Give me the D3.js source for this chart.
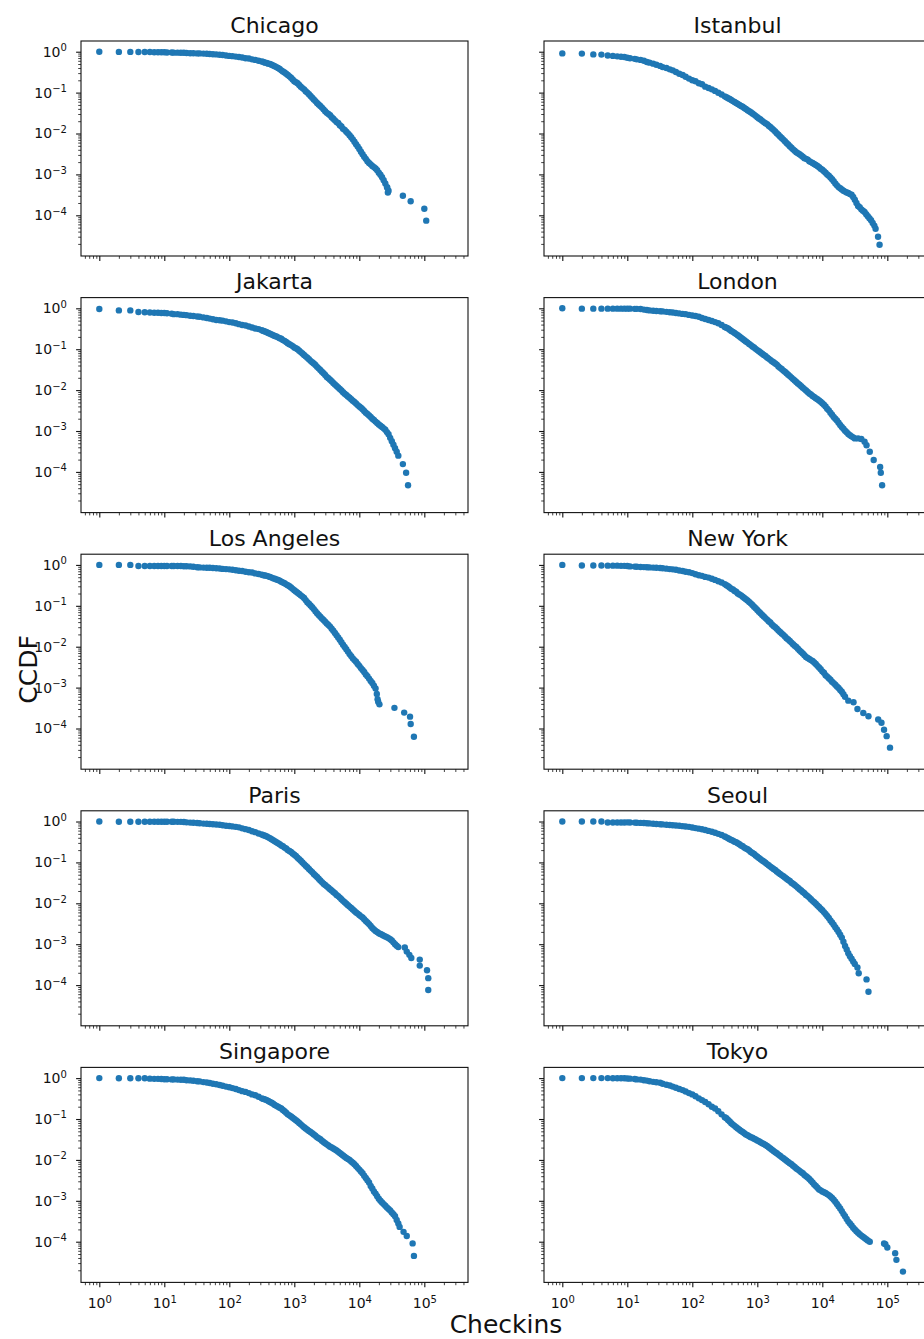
<!DOCTYPE html>
<html>
<head>
<meta charset="utf-8">
<script src="https://cdn.jsdelivr.net/npm/d3@7"></script>
<style>
  body { margin: 0; background: #fff; }
  text { font-family: "DejaVu Sans", sans-serif; fill: #111; }
</style>
</head>
<body>
<div id="chart-area"></div>
<script>
let checkins = [1, 2, 3, 4, 5, 6, 7, 8, 9,
  10, 11, 13, 14, 16, 18, 20, 22, 25, 28, 32, 35, 40, 45, 50, 56, 63, 71, 79, 89,
  100, 112, 126, 141, 158, 178, 200, 224, 251, 282, 316, 355, 398, 447, 501, 562, 631, 708, 794, 891,
  1000, 1122, 1259, 1413, 1585, 1778, 1995, 2239, 2512, 2818, 3162, 3548, 3981, 4467, 5012, 5623, 6310, 7079, 7943, 8913,
  10000, 11220, 12589, 14125, 15849, 17783, 19953, 22387, 25119, 28184, 31623, 35481, 39811, 44668, 50119, 56234, 63096];

// extra reading positions in the steep part of the curves
let checkinsMid = [335, 376, 422, 473, 531, 596, 668, 750, 841, 944,
  1059, 1189, 1334, 1496, 1679, 1884, 2113, 2371, 2661, 2985,
  3350, 3758, 4217, 4732, 5309, 5957, 6683, 7499, 8414, 9441,
  10593, 11885, 13335, 14962, 16788, 18836, 21135, 23714, 26607, 29854,
  33497, 37584, 42170, 47315, 53088, 59566];

// CCDF values, one per checkin count above (each city stops where its dense band ends)
let chicagoCcdf = [1, 0.99, 0.99, 0.98, 0.98, 0.98, 0.97, 0.97, 0.97,
  0.97, 0.96, 0.96, 0.95, 0.95, 0.94, 0.94, 0.93, 0.92, 0.92,
  0.91, 0.91, 0.90, 0.89, 0.88, 0.87, 0.86, 0.84, 0.83, 0.81,
  0.79, 0.78, 0.76, 0.74, 0.72, 0.69, 0.68, 0.65, 0.63, 0.60,
  0.58, 0.54, 0.51, 0.48, 0.44, 0.40, 0.35, 0.31, 0.27, 0.23,
  0.19, 0.17, 0.14, 0.12, 0.10, 0.083, 0.068, 0.056, 0.047, 0.039,
  0.032, 0.028, 0.023, 0.019, 0.016, 0.013, 0.011, 0.0091, 0.0072, 0.0055,
  0.0042, 0.0031, 0.0024, 0.0019, 0.0016, 0.0014, 0.0011, 0.00085, 0.0006, 0.0004];
let istanbulCcdf = [0.91, 0.90, 0.86, 0.85, 0.81, 0.79, 0.77, 0.75, 0.74,
  0.71, 0.69, 0.67, 0.65, 0.63, 0.60, 0.56, 0.54, 0.51, 0.48,
  0.45, 0.42, 0.40, 0.37, 0.35, 0.32, 0.29, 0.27, 0.245, 0.22,
  0.20, 0.19, 0.17, 0.16, 0.14, 0.13, 0.12, 0.11, 0.099, 0.090,
  0.081, 0.073, 0.066, 0.059, 0.053, 0.047, 0.042, 0.037, 0.033, 0.029,
  0.025, 0.022, 0.019, 0.017, 0.0145, 0.0123, 0.0102, 0.0085, 0.0071, 0.0059,
  0.0049, 0.0041, 0.0035, 0.0031, 0.0027, 0.0024, 0.0021, 0.0019, 0.0017, 0.0015,
  0.0013, 0.0011, 0.00093, 0.00076, 0.0006, 0.00049, 0.00043, 0.00038, 0.00035, 0.00032,
  0.00024, 0.00017, 0.00014, 0.00012, 0.000095, 0.000076, 0.000056];
let jakartaCcdf = [0.96, 0.89, 0.89, 0.81, 0.80, 0.79, 0.78, 0.78, 0.77,
  0.77, 0.76, 0.74, 0.72, 0.72, 0.70, 0.69, 0.68, 0.66, 0.65,
  0.63, 0.62, 0.60, 0.58, 0.56, 0.54, 0.52, 0.51, 0.50, 0.48,
  0.46, 0.45, 0.43, 0.41, 0.39, 0.38, 0.36, 0.34, 0.32, 0.31,
  0.29, 0.27, 0.25, 0.23, 0.21, 0.195, 0.18, 0.16, 0.14, 0.126,
  0.11, 0.10, 0.085, 0.072, 0.062, 0.052, 0.045, 0.037, 0.031, 0.026,
  0.021, 0.018, 0.015, 0.0126, 0.0107, 0.0089, 0.0076, 0.0065, 0.0055, 0.0047,
  0.0040, 0.0034, 0.0028, 0.0024, 0.0020, 0.0017, 0.00145, 0.00126, 0.00107, 0.00083,
  0.00056, 0.00038, 0.00025];
let londonCcdf = [1, 0.98, 0.98, 0.98, 0.98, 0.98, 0.98, 0.98, 0.98,
  0.98, 0.98, 0.97, 0.97, 0.96, 0.93, 0.91, 0.89, 0.87, 0.86,
  0.85, 0.84, 0.82, 0.80, 0.79, 0.77, 0.75, 0.73, 0.72, 0.69,
  0.67, 0.65, 0.62, 0.58, 0.55, 0.52, 0.49, 0.46, 0.43, 0.39,
  0.35, 0.32, 0.28, 0.25, 0.22, 0.19, 0.166, 0.145, 0.126, 0.11,
  0.095, 0.083, 0.072, 0.063, 0.055, 0.048, 0.042, 0.035, 0.030, 0.026,
  0.022, 0.0186, 0.0158, 0.0135, 0.0115, 0.0098, 0.0083, 0.0072, 0.0063, 0.0056,
  0.0048, 0.0040, 0.0032, 0.0025, 0.0020, 0.0016, 0.00126, 0.00102, 0.00085, 0.00074,
  0.00066];
let losAngelesCcdf = [1, 1, 1, 0.94, 0.94, 0.94, 0.94, 0.94, 0.94,
  0.94, 0.94, 0.94, 0.94, 0.94, 0.94, 0.93, 0.93, 0.92, 0.90,
  0.88, 0.87, 0.86, 0.855, 0.85, 0.84, 0.83, 0.82, 0.80, 0.79,
  0.78, 0.76, 0.74, 0.72, 0.71, 0.68, 0.66, 0.65, 0.62, 0.60,
  0.575, 0.55, 0.525, 0.49, 0.46, 0.43, 0.39, 0.355, 0.32, 0.28,
  0.24, 0.21, 0.18, 0.155, 0.123, 0.102, 0.083, 0.066, 0.054, 0.045,
  0.037, 0.031, 0.0245, 0.019, 0.0148, 0.0112, 0.0087, 0.0066, 0.0052, 0.0043,
  0.0034, 0.0027, 0.0021, 0.00166, 0.0013, 0.00095];
let newYorkCcdf = [1, 0.97, 0.97, 0.97, 0.96, 0.96, 0.96, 0.95, 0.95,
  0.94, 0.92, 0.91, 0.90, 0.89, 0.885, 0.875, 0.87, 0.86, 0.85,
  0.84, 0.83, 0.81, 0.79, 0.78, 0.76, 0.73, 0.71, 0.68, 0.66,
  0.63, 0.59, 0.56, 0.54, 0.51, 0.49, 0.46, 0.43, 0.40, 0.37,
  0.34, 0.30, 0.26, 0.23, 0.20, 0.18, 0.155, 0.135, 0.115, 0.095,
  0.079, 0.066, 0.055, 0.046, 0.039, 0.032, 0.0275, 0.023, 0.0195, 0.0162,
  0.0138, 0.0115, 0.0098, 0.0081, 0.0068, 0.0056, 0.0050, 0.0045, 0.0038, 0.0031,
  0.0025, 0.0020, 0.0017, 0.0014, 0.00117, 0.00098, 0.00079, 0.0006];
let parisCcdf = [1, 0.99, 0.99, 0.99, 0.99, 0.99, 0.99, 0.99, 0.99,
  0.99, 0.99, 0.99, 0.99, 0.98, 0.98, 0.97, 0.955, 0.94, 0.93,
  0.92, 0.91, 0.89, 0.88, 0.87, 0.86, 0.845, 0.83, 0.81, 0.79,
  0.78, 0.76, 0.74, 0.72, 0.68, 0.65, 0.62, 0.58, 0.55, 0.51,
  0.48, 0.45, 0.41, 0.37, 0.33, 0.295, 0.26, 0.23, 0.20, 0.18,
  0.155, 0.13, 0.11, 0.091, 0.076, 0.063, 0.052, 0.044, 0.036, 0.030,
  0.026, 0.022, 0.019, 0.016, 0.0138, 0.0115, 0.0098, 0.0083, 0.0071, 0.006,
  0.0052, 0.0045, 0.0037, 0.0031, 0.0025, 0.0021, 0.00186, 0.0017, 0.00155, 0.00141,
  0.00123, 0.001, 0.00085];
let seoulCcdf = [1, 1, 1, 1, 0.95, 0.95, 0.95, 0.95, 0.95,
  0.955, 0.95, 0.94, 0.93, 0.925, 0.92, 0.91, 0.90, 0.88, 0.87,
  0.86, 0.85, 0.835, 0.82, 0.81, 0.80, 0.785, 0.77, 0.755, 0.74,
  0.715, 0.69, 0.67, 0.645, 0.62, 0.59, 0.56, 0.53, 0.50, 0.47,
  0.43, 0.39, 0.355, 0.32, 0.295, 0.26, 0.23, 0.21, 0.18, 0.16,
  0.138, 0.12, 0.105, 0.091, 0.079, 0.069, 0.06, 0.052, 0.046, 0.04,
  0.035, 0.030, 0.026, 0.022, 0.019, 0.016, 0.0138, 0.0115, 0.0098, 0.0081,
  0.0068, 0.0055, 0.0044, 0.0034, 0.0026, 0.002, 0.00145, 0.00091, 0.0006, 0.00044,
  0.00033];
let singaporeCcdf = [1, 0.99, 0.99, 0.99, 0.99, 0.97, 0.96, 0.96, 0.95,
  0.94, 0.94, 0.93, 0.93, 0.92, 0.915, 0.91, 0.89, 0.88, 0.86,
  0.84, 0.83, 0.80, 0.78, 0.76, 0.73, 0.71, 0.68, 0.65, 0.62,
  0.60, 0.57, 0.54, 0.51, 0.48, 0.46, 0.43, 0.40, 0.38, 0.35,
  0.32, 0.30, 0.275, 0.25, 0.22, 0.20, 0.18, 0.155, 0.13, 0.115,
  0.10, 0.087, 0.074, 0.063, 0.055, 0.048, 0.042, 0.036, 0.032, 0.0275,
  0.024, 0.021, 0.019, 0.017, 0.0148, 0.0129, 0.0112, 0.01, 0.0085, 0.0071,
  0.0058, 0.0047, 0.0036, 0.0028, 0.002, 0.0015, 0.00112, 0.00091, 0.00076, 0.00063,
  0.00052, 0.00042, 0.00028];
let tokyoCcdf = [1, 1, 1, 1, 1, 0.99, 0.99, 0.99, 0.99,
  0.98, 0.97, 0.955, 0.93, 0.92, 0.89, 0.87, 0.84, 0.81, 0.79,
  0.77, 0.73, 0.69, 0.66, 0.62, 0.58, 0.54, 0.51, 0.47, 0.43,
  0.40, 0.36, 0.32, 0.29, 0.26, 0.23, 0.20, 0.18, 0.155, 0.13,
  0.11, 0.095, 0.079, 0.068, 0.059, 0.051, 0.045, 0.040, 0.036, 0.033,
  0.030, 0.027, 0.0245, 0.022, 0.019, 0.0166, 0.0145, 0.0126, 0.011, 0.0095,
  0.0083, 0.0072, 0.0062, 0.0054, 0.0047, 0.0040, 0.0034, 0.0028, 0.0023, 0.0019,
  0.0017, 0.00155, 0.00138, 0.00117, 0.00095, 0.00074, 0.00056, 0.00042, 0.00031, 0.00025,
  0.0002, 0.000166, 0.000141, 0.000123, 0.000107];

// CCDF read at checkinsMid
let chicagoCcdfMid = [0.56, 0.53, 0.50, 0.46, 0.42, 0.38, 0.33, 0.29, 0.25, 0.21,
  0.18, 0.153, 0.129, 0.108, 0.091, 0.075, 0.062, 0.051, 0.043, 0.035,
  0.030, 0.025, 0.021, 0.018, 0.0148, 0.0123, 0.0101, 0.0081, 0.0063, 0.0048,
  0.0036, 0.0027, 0.0021, 0.00176, 0.00151, 0.00126, 0.00098, 0.00072, 0.00049];
let istanbulCcdfMid = [0.077, 0.070, 0.062, 0.056, 0.050, 0.045, 0.040, 0.035, 0.031, 0.027,
  0.0234, 0.0204, 0.0178, 0.0155, 0.0133, 0.0112, 0.0093, 0.0078, 0.0065, 0.0054,
  0.0045, 0.0038, 0.0033, 0.0029, 0.0025, 0.0023, 0.002, 0.0018, 0.0016, 0.00138,
  0.0012, 0.001, 0.00084, 0.00068, 0.00054, 0.00046, 0.0004, 0.00036, 0.00033, 0.00028,
  0.0002, 0.000157, 0.000129, 0.000106, 0.000085, 0.000065];
let jakartaCcdfMid = [0.28, 0.26, 0.24, 0.22, 0.204, 0.185, 0.167, 0.15, 0.133, 0.119,
  0.106, 0.092, 0.079, 0.067, 0.057, 0.048, 0.041, 0.034, 0.028, 0.0234,
  0.0195, 0.0164, 0.0138, 0.0116, 0.0098, 0.0082, 0.007, 0.006, 0.0051, 0.0043,
  0.0037, 0.0031, 0.0026, 0.0022, 0.00186, 0.00157, 0.00135, 0.00116, 0.00094, 0.00068,
  0.00046, 0.00031];
let londonCcdfMid = [0.335, 0.30, 0.266, 0.234, 0.204, 0.178, 0.155, 0.135, 0.117, 0.102,
  0.089, 0.078, 0.068, 0.059, 0.051, 0.045, 0.038, 0.033, 0.028, 0.0237,
  0.0202, 0.0172, 0.0146, 0.0124, 0.0106, 0.009, 0.0078, 0.0068, 0.006, 0.0052,
  0.0044, 0.0035, 0.0028, 0.0022, 0.0018, 0.0014, 0.00114, 0.00093, 0.00079, 0.0007];
let losAngelesCcdfMid = [0.56, 0.54, 0.51, 0.47, 0.44, 0.41, 0.37, 0.335, 0.30, 0.26,
  0.224, 0.195, 0.168, 0.138, 0.112, 0.092, 0.074, 0.06, 0.049, 0.041,
  0.034, 0.0275, 0.0216, 0.0168, 0.0129, 0.0099, 0.0076, 0.0059, 0.0047, 0.0038,
  0.003, 0.0024, 0.0019, 0.00146, 0.00111];
let newYorkCcdfMid = [0.32, 0.28, 0.25, 0.22, 0.19, 0.166, 0.145, 0.124, 0.105, 0.087,
  0.072, 0.06, 0.05, 0.042, 0.035, 0.03, 0.025, 0.021, 0.0178, 0.015,
  0.0126, 0.0106, 0.0089, 0.0074, 0.0062, 0.0053, 0.0047, 0.0041, 0.0034, 0.0028,
  0.0023, 0.00186, 0.00155, 0.00129, 0.00107, 0.00088, 0.00069];
let parisCcdfMid = [0.46, 0.43, 0.39, 0.35, 0.31, 0.28, 0.25, 0.22, 0.19, 0.166,
  0.143, 0.12, 0.10, 0.083, 0.069, 0.058, 0.048, 0.04, 0.033, 0.028,
  0.024, 0.0207, 0.0176, 0.015, 0.0126, 0.0106, 0.009, 0.0077, 0.0065, 0.0056,
  0.0048, 0.0041, 0.0034, 0.0028, 0.0023, 0.002, 0.00178, 0.00162, 0.00148, 0.00132,
  0.00111, 0.00092];
let seoulCcdfMid = [0.41, 0.37, 0.34, 0.31, 0.28, 0.25, 0.22, 0.195, 0.17, 0.148,
  0.129, 0.112, 0.098, 0.085, 0.074, 0.065, 0.056, 0.049, 0.043, 0.037,
  0.032, 0.028, 0.024, 0.0207, 0.0176, 0.015, 0.0126, 0.0106, 0.0089, 0.0074,
  0.0061, 0.0049, 0.0038, 0.003, 0.0023, 0.0017, 0.00115, 0.00074, 0.00051, 0.00038];
let singaporeCcdfMid = [0.31, 0.29, 0.26, 0.237, 0.21, 0.188, 0.166, 0.143, 0.123, 0.107,
  0.093, 0.08, 0.068, 0.059, 0.051, 0.045, 0.039, 0.034, 0.0295, 0.0257,
  0.0226, 0.0202, 0.018, 0.0158, 0.0138, 0.012, 0.0106, 0.0092, 0.0078, 0.0064,
  0.0052, 0.0041, 0.0032, 0.0023, 0.0017, 0.00129, 0.001, 0.00083, 0.00069, 0.00058,
  0.00047, 0.00034];
let tokyoCcdfMid = [0.104, 0.087, 0.073, 0.063, 0.055, 0.048, 0.042, 0.038, 0.0347, 0.0316,
  0.0285, 0.0257, 0.0232, 0.0204, 0.0178, 0.0155, 0.0135, 0.0117, 0.0102, 0.0089,
  0.0078, 0.0067, 0.0058, 0.005, 0.0043, 0.0037, 0.0031, 0.0025, 0.0021, 0.0018,
  0.00162, 0.00146, 0.00127, 0.00106, 0.00084, 0.00065, 0.00048, 0.00036, 0.00028, 0.00022,
  0.00018, 0.000153, 0.000132, 0.000115];

// sparse points in the tail, [checkins, ccdf]
let chicagoTail = [[26900, 0.00048], [27500, 0.00036], [46800, 0.0003], [61700, 0.00022], [100000, 0.000145], [107000, 0.000074]];
let istanbulTail = [[66000, 0.000047], [72000, 0.00003], [76000, 0.000019]];
let jakartaTail = [[46800, 0.000155], [52500, 0.000095], [56200, 0.000047]];
let londonTail = [[35500, 0.00066], [39800, 0.00064], [44700, 0.00055], [47900, 0.00045], [53700, 0.00031],
  [61700, 0.000195], [77600, 0.000132], [79400, 0.000095], [83200, 0.000047]];
let losAngelesTail = [[18600, 0.0007], [19100, 0.00052], [19500, 0.00045], [20400, 0.00039], [34700, 0.00032],
  [49000, 0.000245], [60300, 0.000195], [61700, 0.000129], [69200, 0.000063]];
let newYorkTail = [[25100, 0.00048], [30200, 0.00044], [34700, 0.0003], [42700, 0.00024], [51300, 0.0002],
  [72400, 0.000166], [81300, 0.000138], [89100, 0.000093], [97700, 0.000065], [110000, 0.000034]];
let parisTail = [[50100, 0.00083], [53700, 0.00066], [58900, 0.00055], [63100, 0.00046], [85100, 0.00042],
  [85100, 0.0003], [110000, 0.00023], [115000, 0.000148], [115000, 0.000076]];
let seoulTail = [[34700, 0.00027], [36300, 0.000195], [47900, 0.000138], [51300, 0.000069]];
let singaporeTail = [[41700, 0.00023], [47900, 0.000174], [53700, 0.000138], [66100, 0.000091], [69200, 0.000045]];
let tokyoTail = [[53700, 0.0001], [89100, 0.000091], [93300, 0.000087], [100000, 0.000072],
  [132000, 0.000052], [138000, 0.000036], [174000, 0.0000186]];

let cityNames = ["Chicago", "Istanbul", "Jakarta", "London", "Los Angeles", "New York", "Paris", "Seoul", "Singapore", "Tokyo"];
let ccdfByCity = [chicagoCcdf, istanbulCcdf, jakartaCcdf, londonCcdf, losAngelesCcdf, newYorkCcdf, parisCcdf, seoulCcdf, singaporeCcdf, tokyoCcdf];
let ccdfMidByCity = [chicagoCcdfMid, istanbulCcdfMid, jakartaCcdfMid, londonCcdfMid, losAngelesCcdfMid, newYorkCcdfMid, parisCcdfMid, seoulCcdfMid, singaporeCcdfMid, tokyoCcdfMid];
let tailByCity = [chicagoTail, istanbulTail, jakartaTail, londonTail, losAngelesTail, newYorkTail, parisTail, seoulTail, singaporeTail, tokyoTail];

let xMajor = [1, 10, 100, 1000, 10000, 100000];
let yMajor = [1, 0.1, 0.01, 0.001, 0.0001];

// layout
let width = 924, height = 1339;
let plotW = 387, plotH = 215;
let colLeft = [81, 544];
let rowTop = [41, 297.6, 554.2, 810.8, 1067.4];

let svg = d3.select("#chart-area").append("svg").attr("width", width).attr("height", height);

let x = d3.scaleLog().domain([Math.pow(10, -0.2815), Math.pow(10, 5.672)]).range([0, plotW]);
let y = d3.scaleLog().domain([Math.pow(10, -4.995), Math.pow(10, 0.262)]).range([plotH, 0]);

let isPow10 = v => Math.abs(Math.log10(v) - Math.round(Math.log10(v))) < 1e-9;
let xMinor = x.ticks().filter(v => !isPow10(v));
let yMinor = y.ticks().filter(v => !isPow10(v));

// "10" with a superscript exponent, like matplotlib's log labels
function powerLabel(d) {
  let e = Math.round(Math.log10(d));
  let t = d3.select(this);
  t.text(null);
  t.append("tspan").text("10");
  t.append("tspan").attr("dy", -5.5).attr("font-size", "10px").text(e < 0 ? "\u2212" + (-e) : String(e));
}

cityNames.forEach((name, i) => {
  let col = i % 2, row = Math.floor(i / 2);
  let g = svg.append("g").attr("transform", `translate(${colLeft[col]},${rowTop[row]})`);

  let points = ccdfByCity[i].map((v, k) => [checkins[k], v])
    .concat(ccdfMidByCity[i].map((v, k) => [checkinsMid[k], v]))
    .concat(tailByCity[i]);

  g.selectAll("circle")
    .data(points)
    .enter()
    .append("circle")
      .attr("cx", d => x(d[0]))
      .attr("cy", d => y(d[1]))
      .attr("r", 3.2)
      .attr("fill", "#1f77b4");

  // x axis: major + minor ticks, labels only on the bottom row
  let gx = g.append("g").attr("transform", `translate(0,${plotH})`)
    .call(d3.axisBottom(x).tickValues(xMajor).tickSize(4.9).tickPadding(10.9).tickFormat(() => ""));
  gx.select(".domain").remove();
  gx.selectAll(".tick line").attr("stroke", "#111").attr("stroke-width", 1.1);
  gx.selectAll(".tick text").attr("font-size", "14px").attr("font-family", "DejaVu Sans");
  if (row === 4) gx.selectAll(".tick text").each(powerLabel);

  let gxm = g.append("g").attr("transform", `translate(0,${plotH})`)
    .call(d3.axisBottom(x).tickValues(xMinor).tickSize(2.8).tickFormat(() => ""));
  gxm.select(".domain").remove();
  gxm.selectAll(".tick line").attr("stroke", "#111").attr("stroke-width", 0.8);

  // y axis: labels only in the left column
  let gy = g.append("g")
    .call(d3.axisLeft(y).tickValues(yMajor).tickSize(4.9).tickPadding(9.2).tickFormat(() => ""));
  gy.select(".domain").remove();
  gy.selectAll(".tick line").attr("stroke", "#111").attr("stroke-width", 1.1);
  gy.selectAll(".tick text").attr("font-size", "14px").attr("font-family", "DejaVu Sans");
  if (col === 0) gy.selectAll(".tick text").each(powerLabel);

  let gym = g.append("g")
    .call(d3.axisLeft(y).tickValues(yMinor).tickSize(2.8).tickFormat(() => ""));
  gym.select(".domain").remove();
  gym.selectAll(".tick line").attr("stroke", "#111").attr("stroke-width", 0.8);

  // frame
  g.append("rect")
    .attr("width", plotW).attr("height", plotH)
    .attr("fill", "none").attr("stroke", "#111").attr("stroke-width", 1.1);

  g.append("text")
    .attr("x", plotW / 2).attr("y", -8.3)
    .attr("text-anchor", "middle")
    .attr("font-size", "22px")
    .text(name);
});

svg.append("text")
  .attr("transform", "translate(37,669.5) rotate(-90)")
  .attr("text-anchor", "middle")
  .attr("font-size", "25px")
  .text("CCDF");

svg.append("text")
  .attr("x", 506).attr("y", 1333)
  .attr("text-anchor", "middle")
  .attr("font-size", "25px")
  .text("Checkins");
</script>
</body>
</html>
